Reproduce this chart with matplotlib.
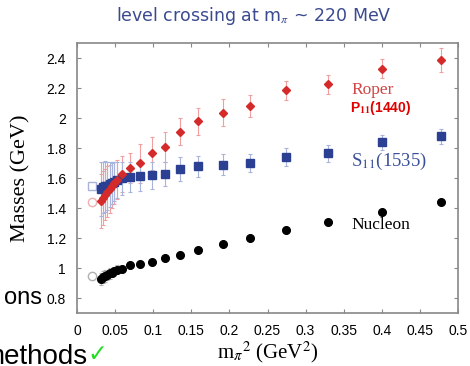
import matplotlib.pyplot as plt
from matplotlib.ticker import MultipleLocator, FormatStrFormatter

plt.rcParams["mathtext.fontset"] = "stix"

# m_pi^2 values (GeV^2)
mpi2 = [0.031, 0.034, 0.037, 0.040, 0.043, 0.046, 0.049, 0.052,
        0.059, 0.070, 0.083, 0.098, 0.116, 0.135, 0.159, 0.191, 0.227,
        0.274, 0.329, 0.400, 0.478]

# Roper P11(1440)
roper = [1.45, 1.47, 1.49, 1.51, 1.53, 1.55, 1.57, 1.59,
         1.627, 1.67, 1.70, 1.765, 1.81, 1.91, 1.98, 2.035, 2.08,
         2.185, 2.225, 2.33, 2.39]
roper_err = [0.18, 0.18, 0.17, 0.17, 0.16, 0.15, 0.14, 0.13,
             0.12, 0.10, 0.13, 0.11, 0.10, 0.09, 0.09, 0.09, 0.075,
             0.065, 0.065, 0.065, 0.08]

# S11(1535)
s11 = [1.53, 1.54, 1.545, 1.55, 1.56, 1.57, 1.575, 1.585,
       1.60, 1.607, 1.615, 1.62, 1.627, 1.66, 1.677, 1.69, 1.70,
       1.738, 1.765, 1.84, 1.88]
s11_err = [0.18, 0.17, 0.17, 0.16, 0.15, 0.14, 0.13, 0.12,
           0.11, 0.10, 0.10, 0.09, 0.08, 0.08, 0.07, 0.07, 0.06,
           0.06, 0.055, 0.05, 0.05]

# Nucleon
nucleon = [0.93, 0.94, 0.95, 0.955, 0.965, 0.97, 0.98, 0.99,
           0.995, 1.02, 1.03, 1.038, 1.065, 1.087, 1.12, 1.16, 1.20,
           1.253, 1.305, 1.373, 1.44]
nucleon_err = [0.04, 0.04, 0.04, 0.035, 0.035, 0.03, 0.03, 0.03,
               0.02, 0.015, 0.015, 0.015, 0.012, 0.012, 0.01, 0.01, 0.01,
               0.01, 0.01, 0.01, 0.01]

# open symbols at the physical point
phys_x = 0.020
phys_roper = 1.44
phys_s11 = 1.547
phys_nucleon = 0.945

fig = plt.figure(figsize=(4.7, 3.66), dpi=100)
ax = fig.add_axes([0.1638, 0.1448, 0.8107, 0.7377])

ax.errorbar(mpi2, roper, yerr=roper_err, fmt="none", ecolor="#f0a0a0",
            elinewidth=0.8, capsize=1.5, capthick=0.8, zorder=2)
ax.errorbar(mpi2, s11, yerr=s11_err, fmt="none", ecolor="#a8b4dc",
            elinewidth=0.8, capsize=1.5, capthick=0.8, zorder=2)
ax.errorbar(mpi2, nucleon, yerr=nucleon_err, fmt="none", ecolor="#b0b0b0",
            elinewidth=0.8, capsize=1.5, capthick=0.8, zorder=2)

ax.plot(mpi2, s11, "s", color="#2b3f93", ms=6, zorder=3)
ax.plot(mpi2, roper, "D", color="#d42a2a", ms=4, zorder=4)
ax.plot(mpi2, nucleon, "o", color="black", ms=5.5, zorder=3)

ax.plot(phys_x, phys_roper, "o", mfc="none", mec="#f0b0b0", ms=6)
ax.plot(phys_x, phys_s11, "s", mfc="none", mec="#a8b4dc", ms=6)
ax.plot(phys_x, phys_nucleon, "o", mfc="none", mec="#b0b0b0", ms=6)

ax.text(0.36, 2.19, "Roper", color="#d04545", family="Liberation Serif",
        fontsize=12.5, va="center")
ax.text(0.358, 2.07, "P$_{\\mathbf{11}}$(1440)", color="#e00000",
        family="Liberation Sans", fontweight="bold", fontsize=10, va="center")
ax.text(0.36, 1.71, "S$_{11}$(1535)", color="#3a4f9a", family="Liberation Serif",
        fontsize=13.5, va="center")
ax.text(0.36, 1.287, "Nucleon", color="black", family="Liberation Serif",
        fontsize=12.5, va="center")

ax.set_xlim(0, 0.5)
ax.set_ylim(0.7, 2.5)
ax.xaxis.set_major_locator(MultipleLocator(0.05))
ax.xaxis.set_major_formatter(FormatStrFormatter("%g"))
ax.yaxis.set_major_formatter(FormatStrFormatter("%g"))
ax.set_yticks([0.8, 1.0, 1.2, 1.4, 1.6, 1.8, 2.0, 2.2, 2.4])
ax.tick_params(direction="in", top=True, right=True, length=3, color="#888888",
               labelsize=10, pad=8)
for lab in ax.get_xticklabels() + ax.get_yticklabels():
    lab.set_family("Liberation Sans")
for s in ax.spines.values():
    s.set_color("#888888")
    s.set_linewidth(1.2)

ax.set_ylabel("Masses (GeV)", family="Liberation Serif", fontsize=16)
ax.yaxis.set_label_coords(-46 / 381, 0.5)
ax.set_xlabel("m$_\\pi$$^2$ (GeV$^2$)", family="Liberation Serif", fontsize=15,
              labelpad=1)

fig.text(0.54, 0.955, "level crossing at m$_\\pi$ ~ 220 MeV", color="#3b4a8e",
         ha="center", va="center", fontsize=12.5, family="DejaVu Sans")
fig.text(42 / 470, 1 - 304 / 366, "ons", ha="right", va="baseline",
         fontsize=17, family="Liberation Sans")
fig.text(87 / 470, 1 - 364 / 366, "methods", ha="right", va="baseline",
         fontsize=20, family="Liberation Sans")
fig.text(87 / 470, 1 - 361 / 366, "\u2713", ha="left", va="baseline",
         fontsize=17, color="#22dd22", family="DejaVu Sans")

fig.savefig("out.png", dpi=100)
